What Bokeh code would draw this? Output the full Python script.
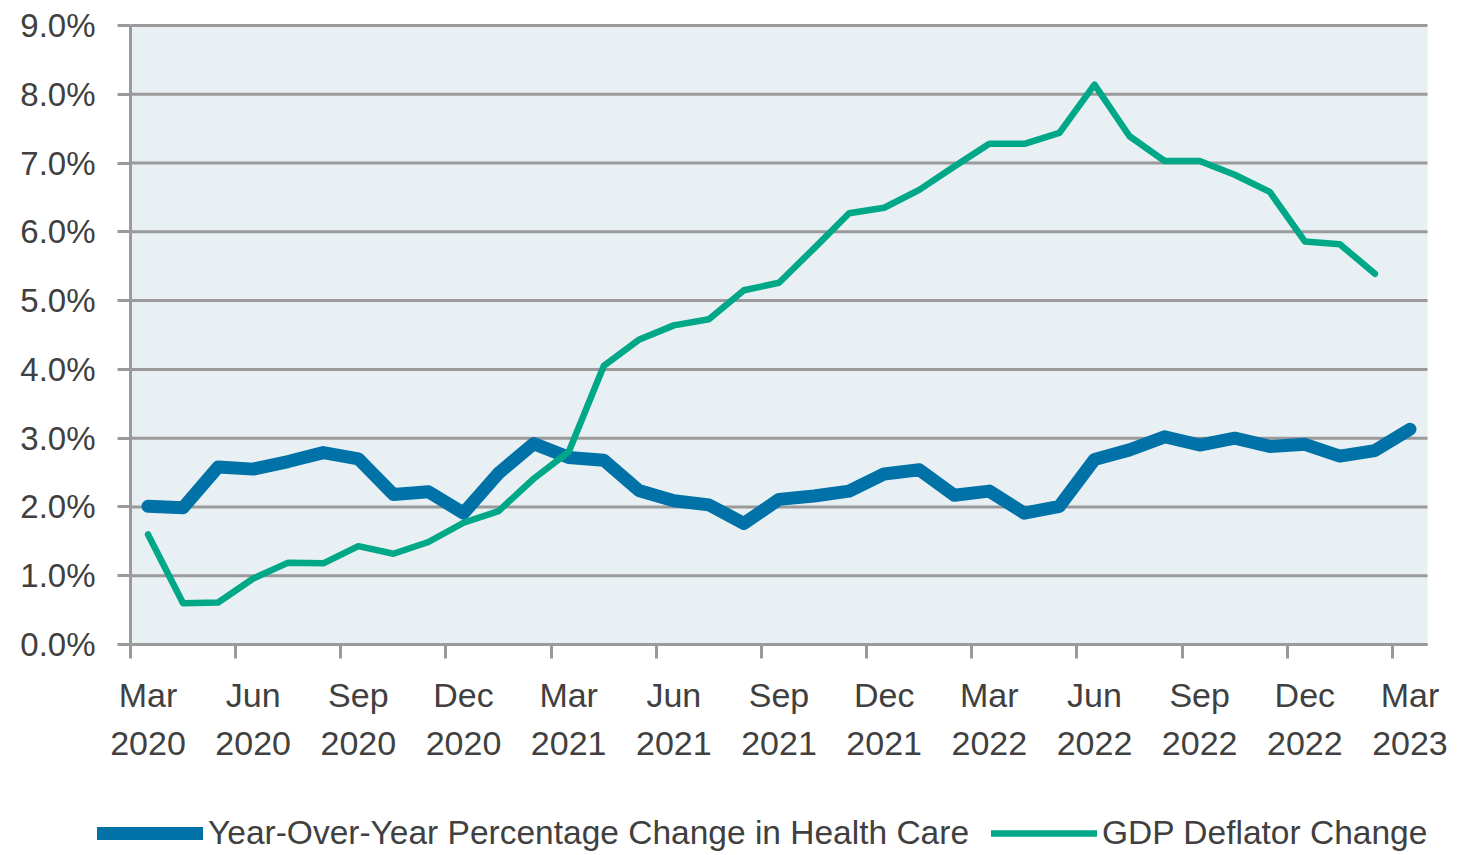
from bokeh.plotting import figure
from bokeh.models import (Range1d, FixedTicker, LinearAxis, Legend, LegendItem,
                          PrintfTickFormatter, BoxAnnotation)
from bokeh.embed import file_html
from bokeh.resources import INLINE

months = ["Mar", "Apr", "May", "Jun", "Jul", "Aug", "Sep", "Oct", "Nov", "Dec", "Jan", "Feb"]
month_labels = []
for i in range(37):
    m = months[i % 12]
    yr = 2020 + (i + 2) // 12
    month_labels.append(f"{m}\n{yr}")

health_care = [2.01, 1.99, 2.58, 2.55, 2.66, 2.79, 2.70, 2.18, 2.22, 1.91, 2.49, 2.92,
               2.72, 2.68, 2.24, 2.09, 2.03, 1.76, 2.11, 2.16, 2.23, 2.48, 2.54, 2.17,
               2.23, 1.91, 2.01, 2.69, 2.83, 3.02, 2.90, 3.00, 2.88, 2.91, 2.74, 2.82, 3.13]
gdp_deflator = [1.60, 0.60, 0.61, 0.96, 1.19, 1.18, 1.43, 1.32, 1.49, 1.77, 1.94, 2.41,
                2.80, 4.05, 4.43, 4.64, 4.73, 5.15, 5.26, 5.76, 6.27, 6.35, 6.61, 6.95,
                7.28, 7.28, 7.44, 8.14, 7.39, 7.03, 7.03, 6.83, 6.58, 5.86, 5.82, 5.39]

y_ticks = list(range(10))
x_idx = list(range(len(health_care)))
x_idx_gdp = list(range(len(gdp_deflator)))

# ---- layout (pixels) ----
W, H = 1473, 855
PL, PR, PT, PB = 130, 1427, 25, 644      # plot-area edges in page pixels
X0, X1 = -0.5, len(health_care) - 0.5    # category bounds
Y0, Y1 = y_ticks[0], y_ticks[-1]
sx = (PR - PL) / (X1 - X0)
sy = (PB - PT) / (Y1 - Y0)
x_range = Range1d(X0 - PL / sx, X1 + (W - PR) / sx)
y_range = Range1d(Y0 - (H - PB) / sy, Y1 + PT / sy)

FONT = "Liberation Sans"
TXT = "#404040"
GRAY = "#9a9a9a"
BLUE = "#0072A7"
GREEN = "#00A887"
BG = "#E8F0F4"

p = figure(width=W, height=H, output_backend="svg", toolbar_location=None,
           x_range=x_range, y_range=y_range,
           x_axis_location=None, y_axis_location=None,
           min_border=0, background_fill_color="white", border_fill_color="white")
p.outline_line_color = None
p.grid.visible = False

# plot-area background and horizontal gridlines
p.add_layout(BoxAnnotation(left=X0, right=X1, bottom=Y0, top=Y1, fill_color=BG,
                           fill_alpha=1, line_color=None, level="image"))
p.segment(x0=[X0] * len(y_ticks), x1=[X1] * len(y_ticks), y0=y_ticks, y1=y_ticks,
          line_color=GRAY, line_width=3, level="underlay")

# y axis
ya = LinearAxis(ticker=FixedTicker(ticks=y_ticks), fixed_location=X0, bounds=(Y0, Y1),
                formatter=PrintfTickFormatter(format="%.1f%%"))
ya.axis_line_color = GRAY
ya.axis_line_width = 3
ya.major_tick_line_color = GRAY
ya.major_tick_line_width = 3
ya.major_tick_out = 13
ya.major_tick_in = 0
ya.minor_tick_line_color = None
ya.major_label_standoff = 22
ya.major_label_text_font = FONT
ya.major_label_text_font_size = "33px"
ya.major_label_text_color = TXT
p.add_layout(ya, "left")

# x axis: line and tick marks at quarter boundaries
xa = LinearAxis(ticker=FixedTicker(ticks=[X0 + 3 * k for k in range(13)]),
                fixed_location=Y0, bounds=(X0, X1))
xa.axis_line_color = GRAY
xa.axis_line_width = 3
xa.major_tick_line_color = GRAY
xa.major_tick_line_width = 3
xa.major_tick_out = 14
xa.major_tick_in = 0
xa.minor_tick_line_color = None
xa.major_label_text_color = None
xa.major_label_text_alpha = 0
p.add_layout(xa, "below")

# x axis: month labels, centred on the quarter's first month
label_ticks = list(range(0, 37, 3))
xl = LinearAxis(ticker=FixedTicker(ticks=label_ticks), fixed_location=Y0,
                major_label_overrides={t: month_labels[t] for t in label_ticks})
xl.axis_line_color = None
xl.major_tick_line_color = None
xl.minor_tick_line_color = None
xl.major_tick_out = 0
xl.major_tick_in = 0
xl.major_label_standoff = 31
xl.major_label_text_font = FONT
xl.major_label_text_font_size = "34px"
xl.major_label_text_color = TXT
xl.major_label_text_line_height = 1.27
p.add_layout(xl, "below")

r1 = p.line(x_idx, health_care, line_color=BLUE, line_width=13, line_join="round", line_cap="round")
r2 = p.line(x_idx_gdp, gdp_deflator, line_color=GREEN, line_width=6.5, line_join="round", line_cap="round")

legend = Legend(items=[LegendItem(label="Year-Over-Year Percentage Change in Health Care", renderers=[r1]),
                       LegendItem(label="GDP Deflator Change", renderers=[r2])],
                orientation="horizontal", location=(97, 3),
                glyph_width=106, glyph_height=20, label_standoff=5, spacing=22,
                padding=0, margin=0, border_line_color=None, background_fill_alpha=0,
                label_text_font=FONT, label_text_font_size="33.5px", label_text_color=TXT)
p.add_layout(legend, "center")

open("out.html", "w").write(file_html(p, INLINE))
